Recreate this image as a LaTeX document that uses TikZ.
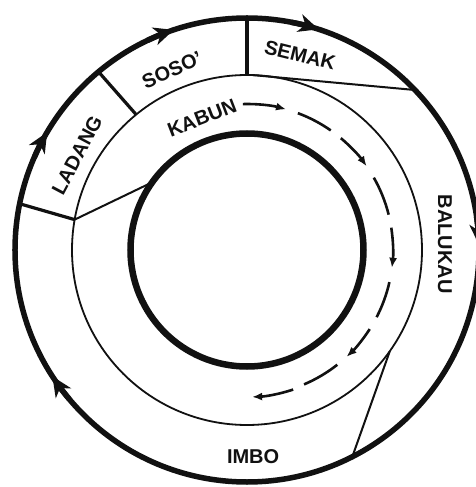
\documentclass[tikz,border=0pt]{standalone}
\usepackage{fontspec}
\setsansfont{Liberation Sans}
\usetikzlibrary{arrows.meta}
\definecolor{ink}{HTML}{111111}
\tikzset{
  outerRing/.style={draw=ink,line width=5.5pt},
  innerRing/.style={draw=ink,line width=6.5pt},
  midRing/.style={draw=ink,line width=1.8pt},
  divider/.style={draw=ink,line width=3.2pt},
  boundary/.style={draw=ink,line width=2pt},
  cycleArrow/.style={draw=ink,line width=5.5pt,
    -{Stealth[length=20pt,width=18pt,inset=6pt]}},
  flowDash/.style={draw=ink,line width=2.6pt},
  flowArrow/.style={flowDash,-{Latex[length=10pt,width=8pt]}},
  zoneLabel/.style={font=\sffamily\bfseries\fontsize{20}{20}\selectfont,
    text=ink,inner sep=0pt}
}

\begin{document}
\begin{tikzpicture}[x=1pt,y=1pt]
  \useasboundingbox[fill=white] (-247,-237) rectangle (229,250);

  % three rings: fallow cycle, garden band, core
  \draw[outerRing] (0,0) circle[radius=232];
  \draw[midRing] (0,0) circle[radius=175];
  \draw[innerRing] (0,0) circle[radius=116.5];

  % boundaries between the stages
  \draw[divider] (168.5:232) -- (170:175);
  \draw[boundary] (170:175) -- (144.5:116.5);
  \draw[divider] (129.8:232) -- (129.3:175);
  \draw[divider] (90:232) -- (90:175);
  \draw[boundary] (88:175) -- (43.6:232);
  \draw[boundary] (-35.3:175) -- (-63:232);

  % clockwise arrows on the outer ring
  \draw[cycleArrow] (115.4:232) arc[start angle=115.4,end angle=108.4,radius=232];
  \draw[cycleArrow] (156.5:232) arc[start angle=156.5,end angle=149.5,radius=232];
  \draw[cycleArrow] (79:232) arc[start angle=79,end angle=72,radius=232];
  \draw[cycleArrow] (8.3:232) arc[start angle=8.3,end angle=1.3,radius=232];
  \draw[cycleArrow] (220:232) arc[start angle=220,end angle=213,radius=232];

  % dashed path through the garden band
  \draw[flowArrow] (91.6:146) arc[start angle=91.6,end angle=74.5,radius=146];
  \draw[flowDash] (69.6:146) arc[start angle=69.6,end angle=55,radius=146];
  \draw[flowArrow] (50:146) arc[start angle=50,end angle=35,radius=146];
  \draw[flowDash] (29.7:146) arc[start angle=29.7,end angle=14,radius=146];
  \draw[flowArrow] (8.8:146) arc[start angle=8.8,end angle=-7,radius=146];
  \draw[flowDash] (-12.7:146) arc[start angle=-12.7,end angle=-27.4,radius=146];
  \draw[flowArrow] (-32.8:146) arc[start angle=-32.8,end angle=-47,radius=146];
  \draw[flowDash] (-51.8:146) arc[start angle=-51.8,end angle=-67,radius=146];
  \draw[flowArrow] (-71.7:147) arc[start angle=-71.7,end angle=-88,radius=147];

  \node[zoneLabel,rotate=62] (ladang) at (150.8:194.7) {LADANG};
  \node[zoneLabel,rotate=24] (soso) at (112.6:195) {SOSO'};
  \node[zoneLabel,rotate=-14] (semak) at (74.8:202) {SEMAK};
  \node[zoneLabel,rotate=-90] (balukau) at (1.7:198) {BALUKAU};
  \node[zoneLabel] (imbo) at (-88.3:207) {IMBO};
  \node[zoneLabel,rotate=21] (kabun) at (108.8:139.5) {KABUN};
\end{tikzpicture}
\end{document}
